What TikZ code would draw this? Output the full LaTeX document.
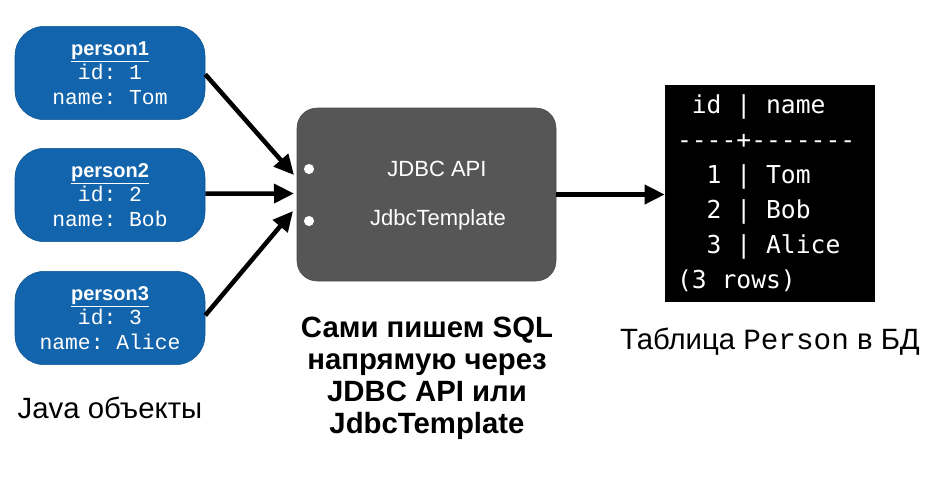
\documentclass[tikz,border=0pt]{standalone}
\usepackage{fontspec}
\setmainfont{Liberation Sans}
\setmonofont{Liberation Mono}
\newfontfamily\termfont{DejaVu Sans Mono}[Ligatures=ResetAll]
\usetikzlibrary{arrows.meta, positioning, calc}

\definecolor{objblue}{RGB}{18, 100, 172}
\definecolor{coregray}{RGB}{86, 86, 86}

% one character cell of the terminal font
\newcommand\cell{\hphantom{0}}

\tikzset{
  javaobj/.style={draw=objblue!85!black, fill=objblue, rounded corners=22pt,
    minimum width=142.5pt, minimum height=70pt, inner sep=0pt, align=center,
    text=white, font=\fontsize{16}{18.5}\selectfont\ttfamily},
  flow/.style={line width=3.4pt, -{Triangle[length=15pt, width=14pt]}},
  label/.style={font=\fontsize{22}{24}\selectfont, align=center}
}

\begin{document}
\begin{tikzpicture}[x=0.75pt, y=-0.75pt]
  \useasboundingbox (0,0) rectangle (945,480);

  % Java objects
  \node[javaobj] (p1) at (110,73) {{\rmfamily\bfseries\fontsize{15}{18}\selectfont\underline{person1}}\\id: 1\\name: Tom};
  \node[javaobj] (p2) at (110,195) {{\rmfamily\bfseries\fontsize{15}{18}\selectfont\underline{person2}}\\id: 2\\name: Bob};
  \node[javaobj] (p3) at (110,318) {{\rmfamily\bfseries\fontsize{15}{18}\selectfont\underline{person3}}\\id: 3\\name: Alice};
  \node[label] (javalbl) at (110,408) {Java объекты};

  % JDBC layer
  \node[fill=coregray, draw=coregray!85!black, rounded corners=15pt, minimum width=194.25pt, minimum height=129.75pt] (core) at (426.5,194.5) {};
  \node[text=white, font=\fontsize{16.5}{19}\selectfont] (api) at (437,169) {JDBC API};
  \node[text=white, font=\fontsize{16.5}{19}\selectfont] (tmpl) at (438,220) {JdbcTemplate};
  \fill[white] (309,169) circle (3.8pt) (309,221) circle (3.8pt);
  \node[label, font=\bfseries\fontsize{22}{24}\selectfont] (how) at (427,378) {Сами пишем SQL\\напрямую через\\JDBC API или\\JdbcTemplate};

  % result table
  \node[fill=black, text=white, minimum width=157.5pt, minimum height=162.75pt, text width=139.5pt, inner xsep=9pt, align=left, font=\termfont\fontsize{18.5}{26.2}\selectfont] (table) at (770,193.5)
    {\cell id\cell|\cell name\\----+-------\\\cell\cell 1\cell|\cell Tom\\\cell\cell 2\cell|\cell Bob\\\cell\cell 3\cell|\cell Alice\\(3\cell rows)};
  \node[label] (tablelbl) at (770,342) {Таблица \texttt{Person} в БД};

  % arrows
  \coordinate (in1) at (294,175);
  \coordinate (in2) at (294,193.5);
  \coordinate (in3) at (293,211);
  \draw[flow] ([yshift=-1pt]p1.east) -- (in1);
  \draw[flow] ([yshift=1pt]p2.east) -- (in2);
  \draw[flow] ([yshift=2pt]p3.east) -- (in3);
  \draw[flow] (core.east) -- (core.east -| table.west);
\end{tikzpicture}
\end{document}
